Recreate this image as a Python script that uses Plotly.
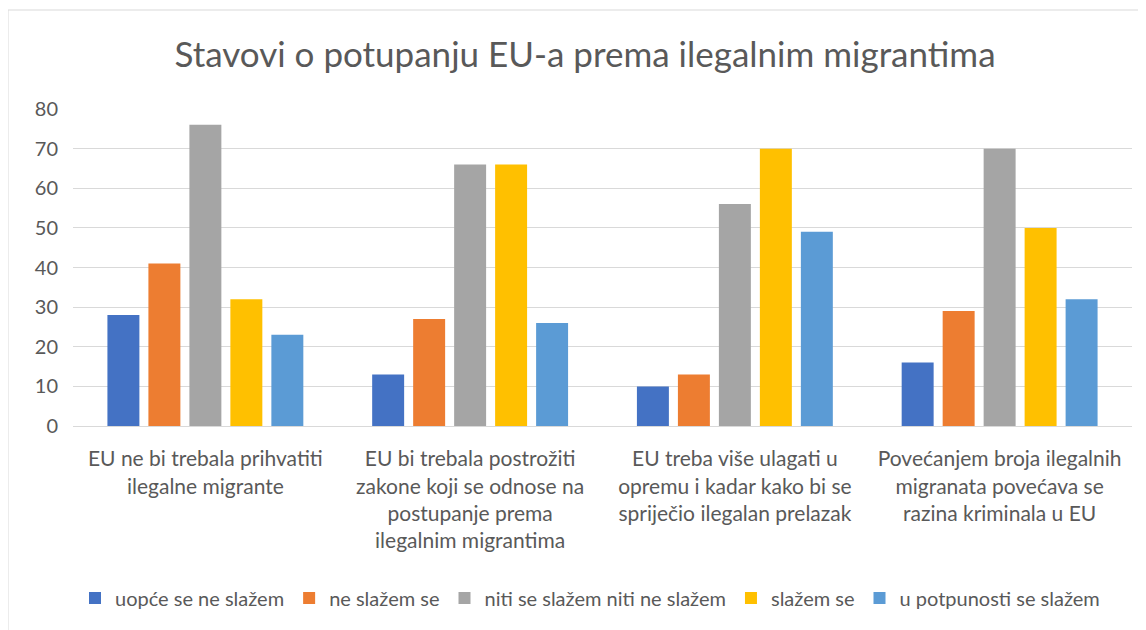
import plotly.graph_objects as go

categories = [
    "EU ne bi trebala prihvatiti<br>ilegalne migrante",
    "EU bi trebala postrožiti<br>zakone koji se odnose na<br>postupanje prema<br>ilegalnim migrantima",
    "EU treba više ulagati u<br>opremu i kadar kako bi se<br>spriječio ilegalan prelazak",
    "Povećanjem broja ilegalnih<br>migranata povećava se<br>razina kriminala u EU",
]
series_names = [
    "uopće se ne slažem",
    "ne slažem se",
    "niti se slažem niti ne slažem",
    "slažem se",
    "u potpunosti se slažem",
]
values = [
    [28, 13, 10, 16],
    [41, 27, 13, 29],
    [76, 66, 56, 70],
    [32, 66, 70, 50],
    [23, 26, 49, 32],
]
colors = ["#4472C4", "#ED7D31", "#A5A5A5", "#FFC000", "#5B9BD5"]

FONT = "Lato, 'Open Sans', sans-serif"
TXT = "#595959"

L, T, R, B = 65, 101, 1124, 418  # plot area in figure px
W, H = 1146, 630

fig = go.Figure()
for name, vals, c in zip(series_names, values, colors):
    fig.add_trace(go.Bar(x=categories, y=vals, name=name, marker_color=c, marker_line_width=0))

fig.update_layout(
    width=W, height=H,
    paper_bgcolor="white", plot_bgcolor="white",
    margin=dict(l=L, r=W - R, t=T, b=H - B, autoexpand=False),
    barmode="group", bargap=0.226, bargroupgap=0.22,
    font=dict(family=FONT, color=TXT, size=20),
    title=dict(text="Stavovi o potupanju EU-a prema ilegalnim migrantima",
               x=577 / W, xref="container", xanchor="center",
               y=1 - 47 / H, yref="container", yanchor="middle",
               font=dict(size=35, color=TXT, family=FONT)),
    legend=dict(orientation="h", x=582 / W, xref="container", xanchor="center",
                y=(B - 590) / (B - T), yanchor="middle",
                font=dict(size=20, color=TXT), itemwidth=30, traceorder="normal"),
    showlegend=True,
)
fig.update_yaxes(range=[0, 80], dtick=10, gridcolor="#D9D9D9", gridwidth=1,
                 zeroline=True, zerolinecolor="#D9D9D9", zerolinewidth=1,
                 tickfont=dict(size=20, color=TXT), ticks="", ticklen=0,
                 ticklabelstandoff=14,
                 showline=False, fixedrange=True, automargin=False)
fig.update_xaxes(tickfont=dict(size=21, color=TXT), showline=True, linecolor="#D9D9D9",
                 ticks="", tickangle=0, fixedrange=True, automargin=False,
                 ticklabelstandoff=14)

fig.add_shape(type="rect", xref="paper", yref="paper",
              x0=(0 - L) / (R - L), x1=(1160 - L) / (R - L),
              y0=(B - 640) / (B - T), y1=(B - 2) / (B - T),
              line=dict(color="#D9D9D9", width=1), fillcolor="rgba(0,0,0,0)", layer="below")

fig.write_html("out.html")
